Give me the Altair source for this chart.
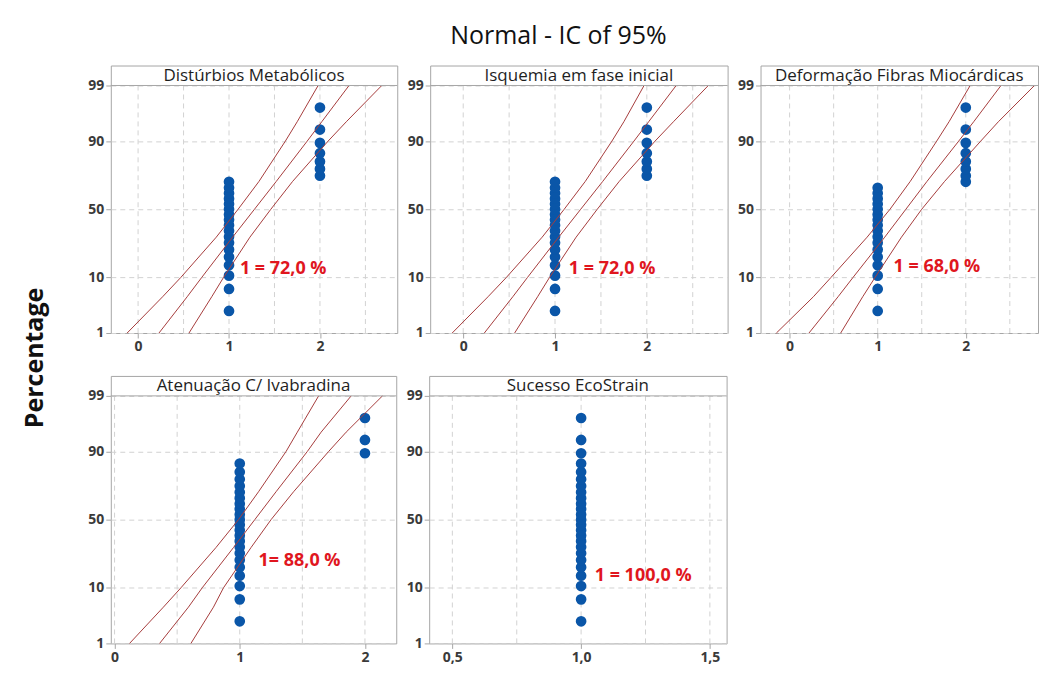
import altair as alt
import pandas as pd
from statistics import NormalDist

TITLE = "Normal - IC of 95%"
Y_TITLE = "Percentage"
PANELS = ["Distúrbios Metabólicos", "Isquemia em fase inicial",
          "Deformação Fibras Miocárdicas", "Atenuação C/ Ivabradina",
          "Sucesso EcoStrain"]
N_TOTAL = 25
N_ONES = [18, 18, 17, 22, 25]           # responses equal to 1 (rest are 2)
PLOT_POS = [2.8, 6.7, 10.6, 14.6, 18.5, 22.4, 26.4, 30.3, 34.3, 38.2, 42.1,
            46.1, 50.0, 53.9, 57.9, 61.8, 65.7, 69.7, 73.6, 77.6, 81.5, 85.4,
            89.4, 93.3, 97.2]            # percent plotting positions
ANNOT = ["1 = 72,0 %", "1 = 72,0 %", "1 = 68,0 %", "1= 88,0 %", "1 = 100,0 %"]
ANNOT_X = [1.12, 1.15, 1.18, 1.15, 1.053]
ANNOT_PCT = [13, 13, 14, 22, 14.5]

BAND_PCT = [1, 5, 10, 30, 50, 70, 90, 95, 99]
LOWER = [[-0.12, 0.27, 0.47, 0.86, 1.10, 1.33, 1.62, 1.75, 1.98],
         [-0.12, 0.27, 0.47, 0.86, 1.10, 1.33, 1.62, 1.75, 1.97],
         [-0.15, 0.27, 0.47, 0.88, 1.14, 1.37, 1.67, 1.81, 2.05],
         [0.12, 0.39, 0.53, 0.81, 0.99, 1.15, 1.37, 1.46, 1.63],
         None]
FIT = [[0.23, 0.54, 0.70, 1.04, 1.28, 1.52, 1.86, 2.02, 2.32],
       [0.23, 0.54, 0.70, 1.04, 1.28, 1.52, 1.86, 2.02, 2.32],
       [0.22, 0.55, 0.72, 1.08, 1.32, 1.56, 1.92, 2.09, 2.40],
       [0.36, 0.59, 0.70, 0.95, 1.12, 1.29, 1.54, 1.65, 1.89],
       None]
UPPER = [[0.56, 0.81, 0.94, 1.23, 1.46, 1.70, 2.09, 2.29, 2.68],
         [0.56, 0.81, 0.94, 1.23, 1.46, 1.70, 2.09, 2.29, 2.67],
         [0.58, 0.83, 0.97, 1.27, 1.50, 1.76, 2.17, 2.37, 2.78],
         [0.61, 0.79, 0.87, 1.09, 1.25, 1.43, 1.71, 1.85, 2.14],
         None]

X_DOMAINS = [[-0.30, 2.85], [-0.36, 2.88], [-0.33, 2.82], [-0.03, 2.25], [0.41, 1.565]]
X_GRID = [[0, 0.5, 1, 1.5, 2, 2.5]] * 3 + [[0, 0.5, 1, 1.5, 2], [0.5, 0.75, 1.0, 1.25, 1.5]]
X_LABELS = [[0, 1, 2]] * 4 + [[0.5, 1.0, 1.5]]
Y_TICKS = [1, 10, 50, 90, 99]
WIDTHS = [287, 298, 278, 286, 298]

PLOT_H = 248
STRIP_H = 20
FONT = "Open Sans"
BLUE = "#0A56A8"
RED_LINE = "#A63C3C"
RED_TEXT = "#E0161E"
FRAME = "#A6A6A6"

nd = NormalDist()
def probit(p):
    return nd.inv_cdf(p / 100.0)

Z_LO = probit(1)
Z_99 = probit(99)
Z_HI = Z_99 + (Z_99 - Z_LO) * STRIP_H / PLOT_H


def panel(i):
    W = WIDTHS[i]
    xs = alt.Scale(domain=X_DOMAINS[i], nice=False, zero=False)
    ys = alt.Scale(domain=[Z_LO, Z_HI], nice=False, zero=False)
    if i == 4:
        lx = "replace(format(datum.value, '.1f'), '.', ',')"
    else:
        lx = "format(datum.value, 'd')"
    xaxis = alt.Axis(values=X_LABELS[i], grid=False, labelExpr=lx, title=None,
                     domain=False)
    yaxis = alt.Axis(values=[probit(p) for p in Y_TICKS],
                     labelExpr="format(round(cumulativeNormal(datum.value)*100), 'd')",
                     grid=True, gridDash=[5, 4], gridColor="#D2D2D2", title=None,
                     domain=False)

    def X(f):
        return alt.X(f, type="quantitative", scale=xs, axis=xaxis)

    def Y(f):
        return alt.Y(f, type="quantitative", scale=ys, axis=yaxis)

    grid_df = pd.DataFrame({"gx": X_GRID[i]})
    grid_df["ylo"] = Z_LO
    grid_df["yhi"] = Z_99
    vgrid = alt.Chart(grid_df).mark_rule(color="#D2D2D2", strokeDash=[5, 4]).encode(
        x=X("gx"), y=Y("ylo"), y2="yhi")

    pts = pd.DataFrame({"x": [1] * N_ONES[i] + [2] * (N_TOTAL - N_ONES[i]),
                        "pct": PLOT_POS})
    pts["z"] = pts["pct"].map(probit)
    dots = alt.Chart(pts).mark_circle(size=115, color=BLUE, opacity=1).encode(
        x=X("x"), y=Y("z"))

    layers = [vgrid, dots]

    if FIT[i] is not None:
        rows = []
        for name, arr in (("lower", LOWER[i]), ("fit", FIT[i]), ("upper", UPPER[i])):
            for k, (p, v) in enumerate(zip(BAND_PCT, arr)):
                rows.append({"s": name, "k": k, "x": v, "z": probit(p)})
        lines = alt.Chart(pd.DataFrame(rows)).mark_line(
            color=RED_LINE, strokeWidth=1).encode(
            x=X("x"), y=Y("z"), detail="s:N", order="k:Q")
        layers.append(lines)

    sep = alt.Chart(pd.DataFrame({"z": [Z_99]})).mark_rule(
        color=FRAME, strokeWidth=1).encode(y=Y("z"))
    layers.append(sep)

    strip = alt.Chart(pd.DataFrame({"t": [PANELS[i]]})).mark_text(
        font=FONT, fontSize=17, color="#1E1E1E", baseline="middle", align="center"
    ).encode(text="t:N", x=alt.value(W / 2), y=alt.value(STRIP_H / 2 + 0.5))
    layers.append(strip)

    ann = alt.Chart(pd.DataFrame({"t": [ANNOT[i]], "x": [ANNOT_X[i]],
                                  "z": [probit(ANNOT_PCT[i])]})).mark_text(
        font=FONT, fontSize=18, fontWeight="bold", color=RED_TEXT,
        align="left", baseline="middle").encode(text="t:N", x=X("x"), y=Y("z"))
    layers.append(ann)

    return alt.layer(*layers).properties(
        width=W, height=PLOT_H + STRIP_H,
        view=alt.ViewBackground(stroke=FRAME, strokeWidth=1, fill="white"))


row1 = alt.hconcat(panel(0), panel(1), panel(2), spacing=8)
row2 = alt.hconcat(panel(3), panel(4), spacing=8)
grid = alt.vconcat(row1, row2, spacing=20)

ylab = alt.Chart(pd.DataFrame({"t": [Y_TITLE]})).mark_text(
    angle=270, font=FONT, fontSize=25, fontWeight="bold", color="#111111",
    align="center", baseline="middle"
).encode(text="t:N", x=alt.value(27), y=alt.value(293)).properties(
    width=55, height=580, view=alt.ViewBackground(stroke=None))

chart = alt.hconcat(ylab, grid, spacing=24).properties(
    title=alt.TitleParams(TITLE, font=FONT, fontSize=25, fontWeight=500,
                          color="#111111", anchor="middle", offset=16, dx=35),
    padding={"left": 0, "top": 15, "right": 0, "bottom": 0},
    background="white",
).configure_view(stroke=None).configure_axis(
    labelFont=FONT, labelFontSize=14, labelFontWeight="bold", labelColor="#3A3A3A",
    tickColor=FRAME, tickSize=5, labelPadding=2,
)

chart.save("out.html", embed_options={"renderer": "svg", "actions": False})
